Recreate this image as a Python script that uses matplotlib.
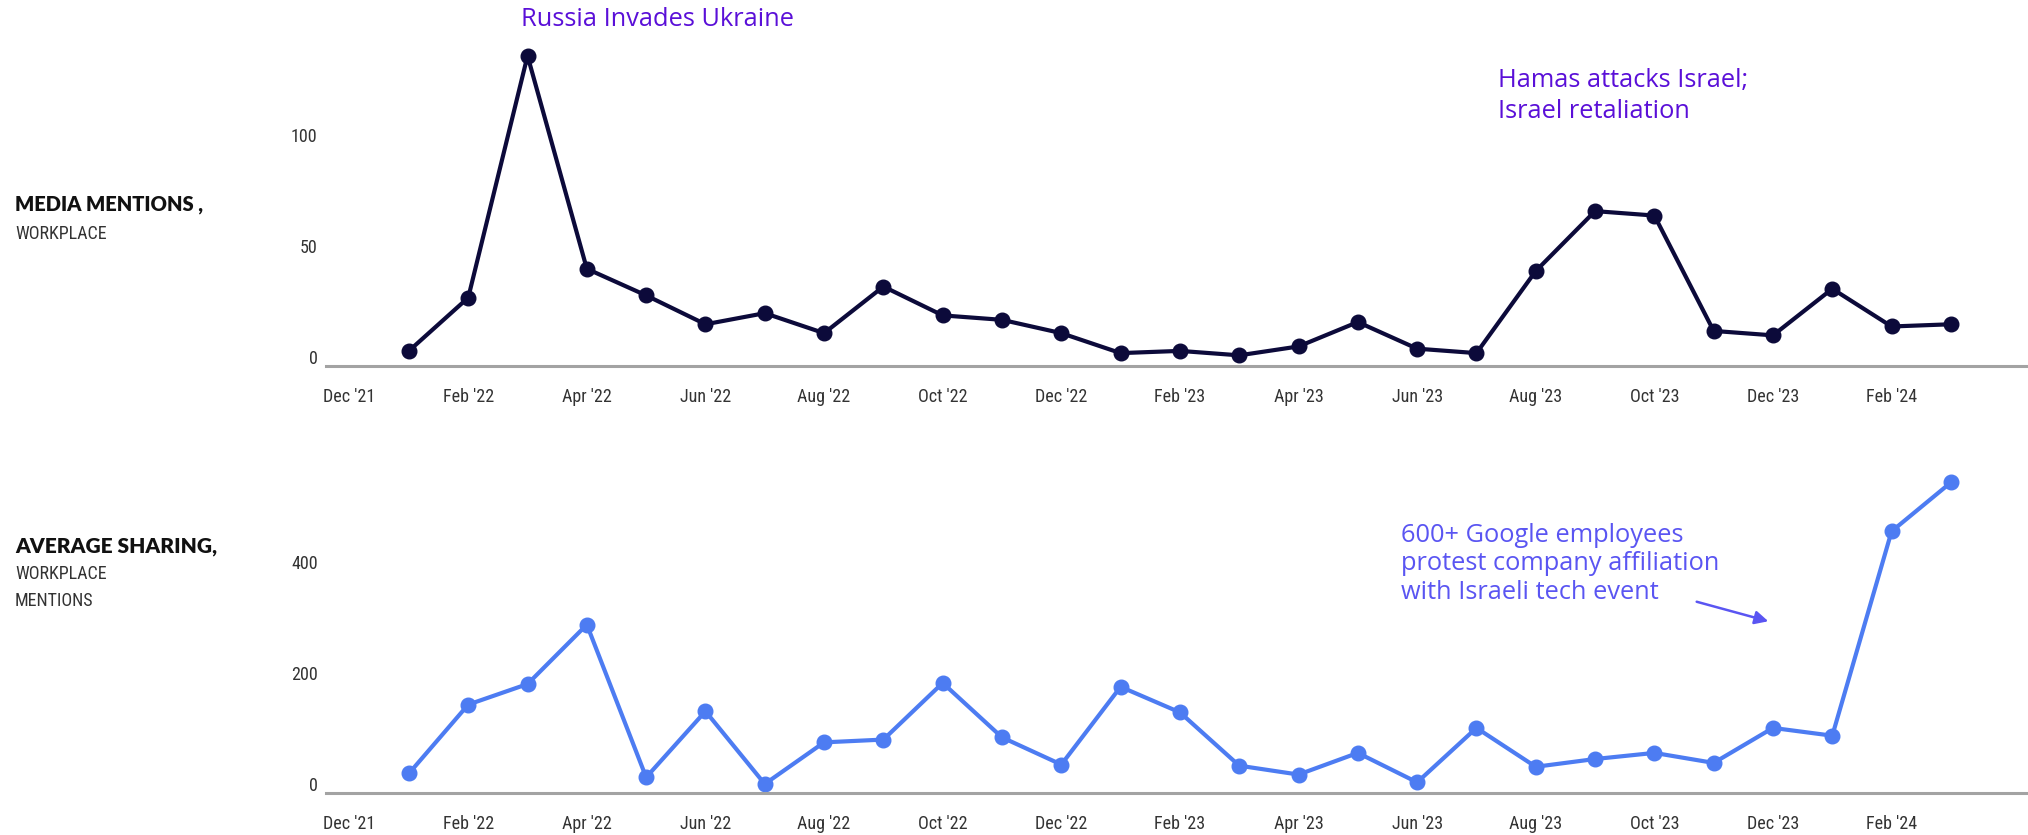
import numpy as np
import matplotlib.pyplot as plt
from matplotlib import font_manager
from matplotlib.transforms import ScaledTranslation

# monthly values, Jan '22 .. Mar '24
media_mentions = [5, 29, 138, 42, 30, 17, 22, 13, 34, 21, 19, 13,
                  4, 5, 3, 7, 18, 6, 4, 41, 68, 66, 14, 12, 33, 16, 17]
average_sharing = [28, 152, 189, 296, 21, 140, 9, 84, 89, 191, 93, 44,
                   184, 138, 42, 26, 65, 12, 110, 40, 54, 65, 47, 110, 96, 464, 552]
tick_labels = ["Dec '21", "Feb '22", "Apr '22", "Jun '22", "Aug '22", "Oct '22", "Dec '22",
               "Feb '23", "Apr '23", "Jun '23", "Aug '23", "Oct '23", "Dec '23", "Feb '24"]

NAVY = '#0c0a3a'
BLUE = '#4d7cf2'
PURPLE = '#5a0fd8'
VIOLET = '#5a55f2'


def pick_font(candidates):
    """
    Returns the first installed family of the candidates
    """
    installed = {f.name for f in font_manager.fontManager.ttflist}
    for name in candidates:
        if name in installed:
            return name
    return 'DejaVu Sans'


NARROW = pick_font(['Liberation Sans Narrow', 'DejaVu Sans Condensed', 'Roboto Condensed', 'Liberation Sans'])
ROUND = pick_font(['Open Sans', 'Lato', 'Noto Sans'])
HEAVY = pick_font(['Lato', 'Open Sans', 'Noto Sans'])


def style_axis(ax, y_ticks, y_lim):
    """
    Strips the axis down to the bottom line and condensed tick labels
    """
    for side in ['top', 'right', 'left']:
        ax.spines[side].set_visible(False)
    ax.spines['bottom'].set_color('#a3a3a3')
    ax.spines['bottom'].set_linewidth(2.2)
    ax.set_xlim(-0.4, 28.3)
    ax.set_ylim(*y_lim)
    ax.set_xticks(np.arange(0, 28, 2))
    ax.set_xticklabels(tick_labels)
    ax.set_yticks(y_ticks)
    ax.set_yticklabels([str(t) for t in y_ticks])
    ax.tick_params(axis='both', length=0, labelsize=13, labelcolor='#333333')
    ax.tick_params(axis='x', pad=16)
    ax.tick_params(axis='y', pad=6)
    for label in ax.get_xticklabels() + ax.get_yticklabels():
        label.set_family(NARROW)
    # y labels sit a little above their values in the original
    for label in ax.get_yticklabels():
        label.set_transform(label.get_transform() + ScaledTranslation(0, 0.05, fig.dpi_scale_trans))


fig = plt.figure(figsize=(20.28, 8.35), dpi=100)
x = np.arange(1, len(media_mentions) + 1)

# top panel
ax_top = fig.add_axes([0.1607, 0.5617, 0.8393, 0.402])
ax_top.plot(x, media_mentions, color=NAVY, linewidth=3, marker='o', markersize=10.5, clip_on=False)
style_axis(ax_top, [0, 50, 100], (-1.8, 149.5))

# bottom panel
ax_bottom = fig.add_axes([0.1607, 0.0503, 0.8393, 0.411])
ax_bottom.plot(x, average_sharing, color=BLUE, linewidth=3, marker='o', markersize=10.5, clip_on=False)
style_axis(ax_bottom, [0, 200, 400], (-7.2, 610.8))

# annotations
fig.text(521 / 2028, 1 - 19 / 835, "Russia Invades Ukraine", color=PURPLE, fontsize=18.3,
         family=ROUND, va='center', ha='left')
fig.text(1498 / 2028, 1 - 96 / 835, "Hamas attacks Israel;\nIsrael retaliation", color=PURPLE,
         fontsize=18.3, family=ROUND, va='center', ha='left', linespacing=1.3)
fig.text(1401 / 2028, 1 - 564 / 835, "600+ Google employees\nprotest company affiliation\nwith Israeli tech event",
         color=VIOLET, fontsize=18.3, family=ROUND, va='center', ha='left', linespacing=1.2)
fig.patches.append(plt.matplotlib.patches.FancyArrowPatch(
    (1694 / 2028, 1 - 601 / 835), (1771 / 2028, 1 - 622 / 835), transform=fig.transFigure,
    arrowstyle='-|>', mutation_scale=20, color=VIOLET, linewidth=1.8))

# panel titles
fig.text(15 / 2028, 1 - 204 / 835, "MEDIA MENTIONS ,", fontsize=14.5, fontweight='heavy',
         family=HEAVY, color='#111111', va='center')
fig.text(15 / 2028, 1 - 234 / 835, "WORKPLACE", fontsize=13, family=NARROW, color='#333333', va='center')
fig.text(15 / 2028, 1 - 547 / 835, "AVERAGE SHARING,", fontsize=15, fontweight='heavy',
         family=HEAVY, color='#111111', va='center')
fig.text(15 / 2028, 1 - 574 / 835, "WORKPLACE", fontsize=13, family=NARROW, color='#333333', va='center')
fig.text(15 / 2028, 1 - 601 / 835, "MENTIONS", fontsize=13, family=NARROW, color='#333333', va='center')

fig.savefig('out.png', dpi=100)
